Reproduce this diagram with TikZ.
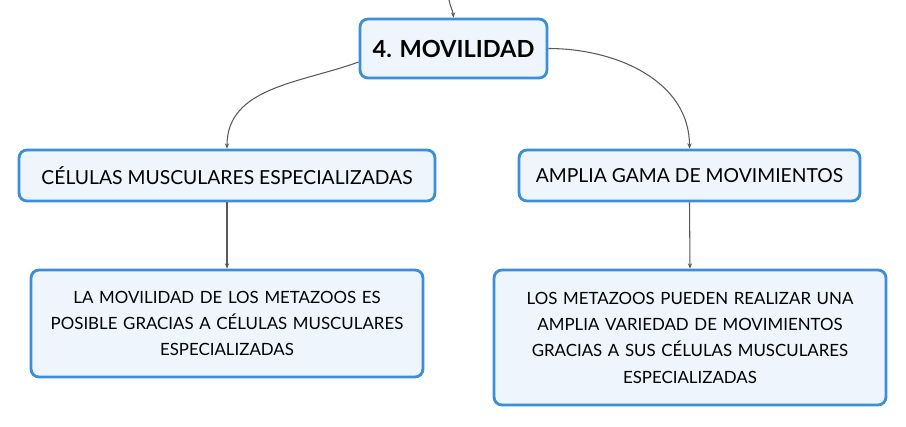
\documentclass[tikz,border=0pt]{standalone}
\usepackage{fontspec}
\setmainfont{Lato}
\usepackage{tikz}
\usetikzlibrary{arrows.meta}
\definecolor{boxline}{HTML}{3A8EDB}
\definecolor{boxfill}{HTML}{EEF5FC}
\definecolor{wire}{HTML}{595959}

\begin{document}
\begin{tikzpicture}[x=0.02cm,y=-0.02cm,
  topic/.style={draw=boxline, fill=boxfill, line width=1.6pt, rounded corners=4.5pt,
    inner sep=0pt, align=center, font=\fontsize{9.6}{15}\selectfont},
  link/.style={draw=wire, line width=0.6pt, -{Stealth[length=3pt,width=2.4pt]}}]
\useasboundingbox (0,0) rectangle (906,426);
\node [topic, minimum width=3.74cm, minimum height=1.18cm, font=\fontsize{13.4}{15}\bfseries\selectfont] (main) at (453.5,48.5) {4. MOVILIDAD};
\node [topic, minimum width=8.32cm, minimum height=1.02cm, font=\fontsize{11}{13}\selectfont] (cells) at (227,175.5) {CÉLULAS MUSCULARES ESPECIALIZADAS};
\node [topic, minimum width=6.82cm, minimum height=1.02cm, font=\fontsize{11}{13}\selectfont] (range) at (689.5,175.5) {AMPLIA GAMA DE MOVIMIENTOS};
\node [topic, minimum width=7.84cm, minimum height=2.14cm, text width=7.4cm] (cellsnote) at (227,323.5) {LA MOVILIDAD DE LOS METAZOOS ES\\POSIBLE GRACIAS A CÉLULAS MUSCULARES\\ESPECIALIZADAS};
\node [topic, minimum width=7.84cm, minimum height=2.7cm, text width=7.4cm] (rangenote) at (690,337.5) {LOS METAZOOS PUEDEN REALIZAR UNA\\AMPLIA VARIEDAD DE MOVIMIENTOS\\GRACIAS A SUS CÉLULAS MUSCULARES\\ESPECIALIZADAS};
\coordinate (parent) at (449,0);
\draw [link] (parent) to [out=-80,in=95] (main.north);
\draw [link] (main.west |- 0,62) to [out=200,in=90] (cells.north);
\draw [link] (main.east) to [out=0,in=90] (range.north);
\draw [link] (cells.south) -- (cellsnote.north);
\draw [link] (range.south) -- (rangenote.north);
\end{tikzpicture}
\end{document}
